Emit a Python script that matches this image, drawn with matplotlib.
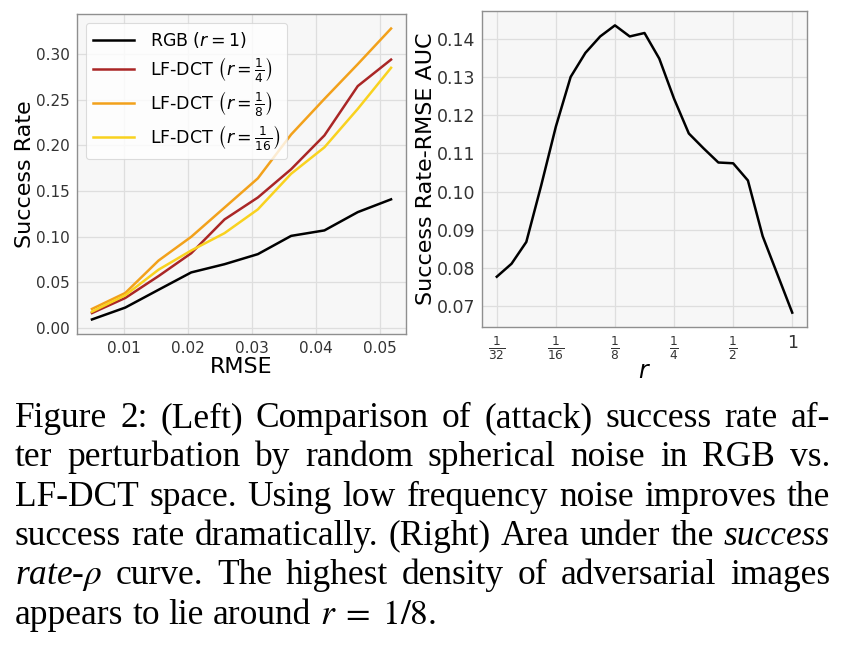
import matplotlib

matplotlib.use("Agg")
import matplotlib.pyplot as plt


# left panel: success rate vs. RMSE
RMSE = [0.0050, 0.0102, 0.0154, 0.0205, 0.0257, 0.0309, 0.0361, 0.0413, 0.0465, 0.0517]
SUCCESS_RGB = [0.0095, 0.0225, 0.042, 0.061, 0.070, 0.081, 0.101, 0.107, 0.127, 0.141]
SUCCESS_R4 = [0.0165, 0.033, 0.057, 0.082, 0.119, 0.143, 0.174, 0.211, 0.265, 0.294]
SUCCESS_R8 = [0.021, 0.0385, 0.074, 0.100, 0.132, 0.164, 0.212, 0.251, 0.289, 0.328]
SUCCESS_R16 = [0.018, 0.036, 0.064, 0.085, 0.104, 0.130, 0.169, 0.198, 0.240, 0.285]
SERIES_LABELS = [
    r"RGB $(r = 1)$",
    r"LF-DCT $\left(r = \frac{1}{4}\right)$",
    r"LF-DCT $\left(r = \frac{1}{8}\right)$",
    r"LF-DCT $\left(r = \frac{1}{16}\right)$",
]
SERIES_COLORS = ["black", "#aa2626", "#f2a11b", "#f9d21f"]
RMSE_TICKS = [0.01, 0.02, 0.03, 0.04, 0.05]
RATE_TICKS = [0.00, 0.05, 0.10, 0.15, 0.20, 0.25, 0.30]

# right panel: AUC vs. r
R_VALUES = [0.03125, 0.03716, 0.04419, 0.05256, 0.0625, 0.07433, 0.08839,
            0.10511, 0.125, 0.14865, 0.17678, 0.21022, 0.25, 0.29730,
            0.35355, 0.42045, 0.5, 0.59460, 0.70711, 0.84090, 1.0]
AUC = [0.0777, 0.0811, 0.0868, 0.1015, 0.1170, 0.1300, 0.1363, 0.1406,
       0.1435, 0.1406, 0.1415, 0.1348, 0.1243, 0.1152, 0.1113, 0.1076,
       0.1074, 0.1029, 0.0883, 0.0783, 0.0683]
R_TICKS = [1 / 32, 1 / 16, 1 / 8, 1 / 4, 1 / 2, 1]
R_TICK_LABELS = [r"$\frac{1}{32}$", r"$\frac{1}{16}$", r"$\frac{1}{8}$",
                 r"$\frac{1}{4}$", r"$\frac{1}{2}$", r"$1$"]
AUC_TICKS = [0.07, 0.08, 0.09, 0.10, 0.11, 0.12, 0.13, 0.14]

# caption, "_" marks an italic word
CAPTION = [
    "Figure 2: (Left) Comparison of (attack) success rate af-",
    "ter perturbation by random spherical noise in RGB vs.",
    "LF-DCT space. Using low frequency noise improves the",
    "success rate dramatically. (Right) Area under the _success",
    r"_rate-$\rho$ curve. The highest density of adversarial images",
    r"appears to lie around $r\;=\;1/8$.",
]

W, H = 845, 664


def style_axes(ax, tick_size):
    ax.set_facecolor("#f7f7f7")
    ax.grid(True, color="#dedede", linewidth=0.9)
    ax.set_axisbelow(True)
    for spine in ax.spines.values():
        spine.set_color("#8f8f8f")
        spine.set_linewidth(1.0)
    ax.tick_params(length=0, pad=5, labelsize=tick_size, labelcolor="#333333")


def draw_left(ax):
    series = [SUCCESS_RGB, SUCCESS_R4, SUCCESS_R8, SUCCESS_R16]
    for values, label, color in zip(series, SERIES_LABELS, SERIES_COLORS):
        ax.plot(RMSE, values, color=color, linewidth=1.8, label=label)

    style_axes(ax, 11)
    ax.set_xticks(RMSE_TICKS)
    ax.set_yticks(RATE_TICKS)
    ax.set_xlabel("RMSE", fontsize=16, labelpad=1)
    ax.set_ylabel("Success Rate", fontsize=16, labelpad=1)

    legend = ax.legend(loc="upper left", fontsize=12.5, framealpha=0.8,
                       edgecolor="#d4d4d4", fancybox=True, handlelength=2.4,
                       borderpad=0.4, labelspacing=0.3, handletextpad=0.9)
    legend.get_frame().set_linewidth(0.8)


def draw_right(ax):
    ax.plot(R_VALUES, AUC, color="black", linewidth=1.8)
    ax.set_xscale("log", base=2)

    style_axes(ax, 12.5)
    ax.set_xticks(R_TICKS)
    ax.set_xticklabels(R_TICK_LABELS)
    ax.minorticks_off()
    ax.set_yticks(AUC_TICKS)
    ax.set_xlabel("$r$", fontsize=17, labelpad=-2)
    ax.set_ylabel("Success Rate-RMSE AUC", fontsize=16, labelpad=0)


def draw_caption(fig):
    renderer = fig.canvas.get_renderer()
    left, right = 15, 830
    first_baseline, step = 427, 39.3
    font = dict(fontsize=25.5, family="Liberation Serif", math_fontfamily="stix",
                va="baseline", ha="left", color="black")

    probe_a = fig.text(0, 0, "a a", **font)
    probe_b = fig.text(0, 0, "aa", **font)
    space = (probe_a.get_window_extent(renderer).width
             - probe_b.get_window_extent(renderer).width)
    probe_a.remove()
    probe_b.remove()

    for i, line in enumerate(CAPTION):
        y = 1 - (first_baseline + i * step) / H
        texts = []
        for word in line.split(" "):
            italic = word.startswith("_")
            word = word.lstrip("_")
            t = fig.text(0, y, word, style="italic" if italic else "normal", **font)
            texts.append(t)

        widths = [t.get_window_extent(renderer).width for t in texts]
        if i < len(CAPTION) - 1:
            gap = (right - left - sum(widths)) / (len(texts) - 1)
        else:
            gap = space

        x = left
        for t, w in zip(texts, widths):
            t.set_x(x / W)
            x += w + gap


def main():
    fig = plt.figure(figsize=(W / 100, H / 100), dpi=100)
    ax_left = fig.add_axes([77 / W, 1 - 334 / H, 329 / W, 320 / H])
    ax_right = fig.add_axes([482 / W, 1 - 327 / H, 325 / W, 316 / H])

    draw_left(ax_left)
    draw_right(ax_right)
    draw_caption(fig)

    fig.savefig("out.png", dpi=100)
    plt.close(fig)


if __name__ == "__main__":
    main()
